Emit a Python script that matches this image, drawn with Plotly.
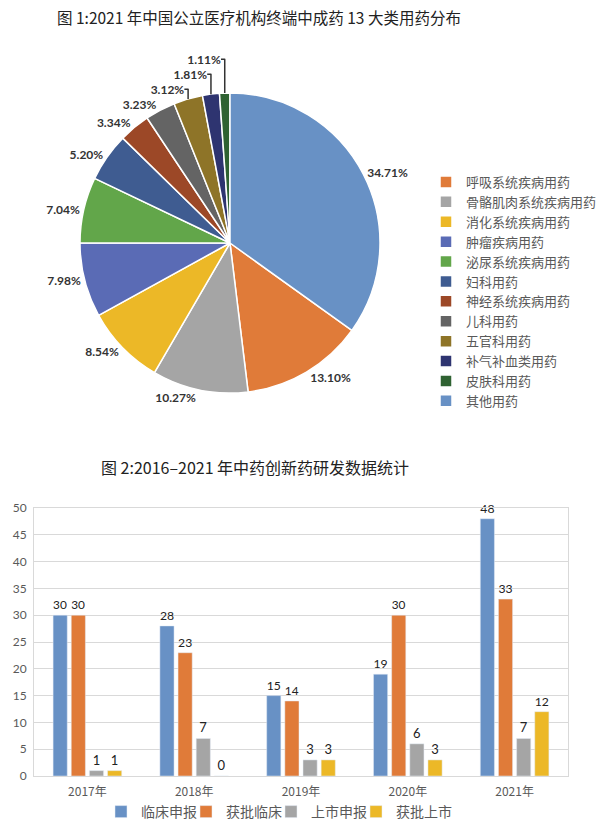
import plotly.graph_objects as go

# ---------- Pie data ----------
pie_labels = ["呼吸系统疾病用药", "骨骼肌肉系统疾病用药", "消化系统疾病用药", "肿瘤疾病用药",
              "泌尿系统疾病用药", "妇科用药", "神经系统疾病用药", "儿科用药",
              "五官科用药", "补气补血类用药", "皮肤科用药", "其他用药"]
pie_values = [13.10, 10.27, 8.54, 7.98, 7.04, 5.20, 3.34, 3.23, 3.12, 1.81, 1.11, 34.71]
pie_colors = ["#E07B39", "#A5A5A5", "#ECB827", "#5A6BB5", "#62A64A", "#3F5C91",
              "#9C4827", "#646464", "#8E7428", "#2E3470", "#2F6232", "#6891C5"]

# ---------- Bar data ----------
years = ["2017年", "2018年", "2019年", "2020年", "2021年"]
series_names = ["临床申报", "获批临床", "上市申报", "获批上市"]
clinical_apply = [30, 28, 15, 19, 48]
clinical_approved = [30, 23, 14, 30, 33]
market_apply = [1, 7, 3, 6, 7]
market_approved = [1, 0, 3, 3, 12]
bar_series = [clinical_apply, clinical_approved, market_apply, market_approved]
bar_colors = ["#6891C5", "#E07B39", "#A5A5A5", "#ECB827"]

W, H = 600, 823
CJK = "Noto Sans CJK SC"

fig = go.Figure()

# rotation so that the last slice (其他用药) starts at 12 o'clock
rot = 360.0 * pie_values[-1] / sum(pie_values)

fig.add_trace(go.Pie(
    labels=pie_labels, values=pie_values, sort=False, direction="clockwise",
    rotation=rot,
    marker=dict(colors=pie_colors, line=dict(color="white", width=1.5)),
    texttemplate="%{value:.2f}%", textposition="outside",
    textfont=dict(size=12, color="#333333", family="Lato", weight="bold"),
    domain=dict(x=[80 / W, 380 / W], y=[1 - 393 / H, 1 - 93 / H]),
    legend="legend", showlegend=True, hoverinfo="label+value",
))

for name, vals, col in zip(series_names, bar_series, bar_colors):
    fig.add_trace(go.Bar(
        x=years, y=vals, name=name, marker_color=col,
        text=vals, textposition="outside", cliponaxis=False,
        textfont=dict(size=13, color="#222222", family="Lato"),
        legend="legend2",
    ))

# invisible spacer entry so the last legend label is not clipped
fig.add_trace(go.Scatter(x=[None], y=[None], mode="markers", name="\u00a0",
                         marker=dict(color="rgba(0,0,0,0)", size=1,
                                     line=dict(width=0, color="rgba(0,0,0,0)")),
                         legend="legend2", hoverinfo="skip"))

fig.update_layout(
    width=W, height=H,
    margin=dict(l=0, r=0, t=0, b=0, autoexpand=False),
    paper_bgcolor="white", plot_bgcolor="white",
    font=dict(family=CJK, color="#595959"),
    barmode="group", bargap=0.32, bargroupgap=0.22,
    xaxis=dict(domain=[34 / W, 568 / W], anchor="y",
               showline=True, mirror=True, linecolor="#D9D9D9", linewidth=1,
               ticks="", ticklabelstandoff=5,
               tickfont=dict(size=12, color="#595959", family=CJK),
               showgrid=False),
    yaxis=dict(domain=[1 - 776 / H, 1 - 508 / H], anchor="x",
               range=[0, 50], dtick=5, showgrid=True, gridcolor="#D9D9D9",
               showline=True, mirror=True, linecolor="#D9D9D9", linewidth=1,
               zeroline=False, ticks="", ticklabelstandoff=4,
               tickfont=dict(size=12, color="#595959", family="Lato")),
    legend=dict(x=426 / W, y=1 - 167 / H, xanchor="left", yanchor="top",
                font=dict(size=13, color="#595959", family=CJK),
                bgcolor="rgba(0,0,0,0)", traceorder="normal"),
    legend2=dict(orientation="h", x=101 / W, y=1 - 812 / H, xanchor="left", yanchor="middle",
                 font=dict(size=14, color="#595959", family=CJK),
                 bgcolor="rgba(0,0,0,0)", entrywidth=40, entrywidthmode="pixels"),
    annotations=[
        dict(text="图 1:2021 年中国公立医疗机构终端中成药 13 大类用药分布",
             x=259 / W, y=1 - 17 / H, xref="paper", yref="paper",
             xanchor="center", yanchor="middle", showarrow=False,
             font=dict(size=15.5, color="#222222", family=CJK)),
        dict(text="图 2:2016–2021 年中药创新药研发数据统计",
             x=255 / W, y=1 - 467 / H, xref="paper", yref="paper",
             xanchor="center", yanchor="middle", showarrow=False,
             font=dict(size=16, color="#222222", family=CJK)),
    ],
)

fig.write_html("out.html", config={"displayModeBar": False},
               post_script="document.body.style.margin='0';")
